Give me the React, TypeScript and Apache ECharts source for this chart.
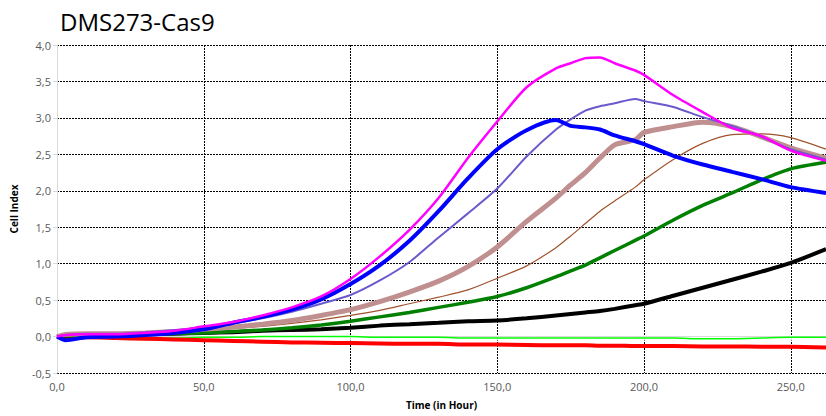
import React, { useEffect, useRef } from "react";
import * as echarts from "echarts";

const hours = [0, 3, 10, 20, 30, 40, 50, 60, 70, 80, 90, 100, 110, 120, 130, 140, 150, 160, 170, 175, 180, 185, 190, 197, 200, 210, 220, 230, 240, 250, 262];

const magenta = [0, 0.02, 0.03, 0.03, 0.05, 0.08, 0.14, 0.2, 0.29, 0.4, 0.55, 0.79, 1.1, 1.46, 1.9, 2.45, 2.95, 3.42, 3.68, 3.75, 3.82, 3.83, 3.75, 3.65, 3.59, 3.31, 3.08, 2.86, 2.75, 2.55, 2.41];
const blue = [0, -0.05, -0.01, 0, 0.02, 0.05, 0.1, 0.19, 0.27, 0.37, 0.51, 0.72, 0.98, 1.31, 1.72, 2.17, 2.57, 2.83, 2.97, 2.89, 2.87, 2.84, 2.76, 2.68, 2.64, 2.48, 2.36, 2.26, 2.16, 2.05, 1.97];
const slate = [0, 0.02, 0.04, 0.04, 0.06, 0.09, 0.12, 0.18, 0.25, 0.34, 0.45, 0.57, 0.77, 1.02, 1.36, 1.69, 2.03, 2.47, 2.84, 2.98, 3.1, 3.16, 3.2, 3.26, 3.23, 3.15, 3.01, 2.89, 2.74, 2.57, 2.43];
const rosy = [0, 0.03, 0.04, 0.04, 0.05, 0.07, 0.1, 0.13, 0.17, 0.22, 0.29, 0.37, 0.48, 0.61, 0.76, 0.96, 1.23, 1.58, 1.9, 2.08, 2.25, 2.45, 2.63, 2.7, 2.8, 2.88, 2.94, 2.88, 2.74, 2.59, 2.45];
const brown = [0, 0.03, 0.04, 0.04, 0.05, 0.07, 0.09, 0.11, 0.14, 0.18, 0.23, 0.29, 0.36, 0.45, 0.54, 0.64, 0.8, 0.97, 1.22, 1.38, 1.55, 1.72, 1.86, 2.05, 2.15, 2.43, 2.65, 2.77, 2.78, 2.73, 2.57];
const green = [0, 0.01, 0.02, 0.02, 0.03, 0.04, 0.05, 0.07, 0.09, 0.12, 0.16, 0.21, 0.27, 0.33, 0.4, 0.47, 0.55, 0.67, 0.82, 0.9, 0.98, 1.08, 1.18, 1.32, 1.38, 1.6, 1.8, 1.97, 2.15, 2.3, 2.39];
const black = [0, 0.01, 0.02, 0.02, 0.03, 0.04, 0.05, 0.06, 0.08, 0.09, 0.1, 0.12, 0.15, 0.17, 0.19, 0.21, 0.22, 0.25, 0.29, 0.31, 0.33, 0.35, 0.38, 0.43, 0.45, 0.56, 0.67, 0.78, 0.89, 1.01, 1.2];
const lime = [0, 0.01, 0, -0.01, -0.02, -0.02, -0.01, -0.01, 0, 0, 0, 0, -0.01, -0.01, -0.01, -0.02, -0.02, -0.02, -0.02, -0.02, -0.02, -0.02, -0.02, -0.02, -0.02, -0.02, -0.03, -0.03, -0.02, -0.01, -0.01];
const red = [0, -0.01, -0.01, -0.02, -0.03, -0.04, -0.05, -0.06, -0.07, -0.08, -0.085, -0.09, -0.095, -0.1, -0.1, -0.11, -0.11, -0.115, -0.12, -0.12, -0.12, -0.125, -0.125, -0.13, -0.13, -0.13, -0.135, -0.135, -0.14, -0.14, -0.15];

const seriesDefs = [
  { name: "lime", values: lime, color: "#00FF00", width: 1.5 },
  { name: "red", values: red, color: "#FF0000", width: 4 },
  { name: "black", values: black, color: "#000000", width: 4 },
  { name: "green", values: green, color: "#008000", width: 3.5 },
  { name: "brown", values: brown, color: "#A0522D", width: 1.2 },
  { name: "rosy", values: rosy, color: "#C09090", width: 5 },
  { name: "slate", values: slate, color: "#6A5ACD", width: 2 },
  { name: "blue", values: blue, color: "#0000FF", width: 4 },
  { name: "magenta", values: magenta, color: "#FF00FF", width: 2.5 },
];

const fmt = (v: number) => v.toFixed(1).replace(".", ",");

export default function App() {
  const ref = useRef<HTMLDivElement>(null);
  useEffect(() => {
    if (!ref.current) return;
    const chart = echarts.init(ref.current, null, { renderer: "svg" });
    const dash = { color: "#000", width: 1, type: [2, 1] as any };
    chart.setOption({
      animation: false,
      backgroundColor: "#fff",
      title: {
        text: "DMS273-Cas9",
        left: 55,
        top: 4,
        textStyle: { fontFamily: "Open Sans", fontSize: 24, fontWeight: "normal", color: "#000" },
      },
      grid: { left: 57, right: 0, top: 45, bottom: 43, containLabel: false },
      xAxis: {
        type: "value",
        min: 0,
        max: 262,
        interval: 50,
        name: "Time (in Hour)",
        nameLocation: "middle",
        nameGap: 27,
        nameTextStyle: { fontFamily: "Open Sans", fontSize: 10, fontWeight: "bold", color: "#000" },
        axisLine: { show: true, lineStyle: { color: "#d9d9d9", width: 1 } },
        axisTick: { show: true, length: 4, lineStyle: { color: "#d9d9d9" } },
        axisLabel: { formatter: fmt, fontFamily: "Open Sans", fontSize: 11, color: "#595959", margin: 8, showMaxLabel: false },
        splitLine: { show: true, lineStyle: dash },
      },
      yAxis: {
        type: "value",
        min: -0.5,
        max: 4,
        interval: 0.5,
        name: "Cell Index",
        nameLocation: "middle",
        nameGap: 38,
        nameTextStyle: { fontFamily: "Open Sans", fontSize: 10, fontWeight: "bold", color: "#000" },
        axisLine: { show: true, lineStyle: { color: "#d9d9d9", width: 1 } },
        axisTick: { show: true, length: 4, lineStyle: { color: "#d9d9d9" } },
        axisLabel: { formatter: fmt, fontFamily: "Open Sans", fontSize: 11, color: "#595959", margin: 6 },
        splitLine: { show: true, lineStyle: dash },
      },
      series: seriesDefs.map((s) => ({
        name: s.name,
        type: "line",
        data: hours.map((h, i) => [h, s.values[i]]),
        showSymbol: false,
        smooth: 0.25,
        lineStyle: { color: s.color, width: s.width },
        itemStyle: { color: s.color },
        clip: true,
      })),
    });
    return () => chart.dispose();
  }, []);
  return <div ref={ref} style={{ width: 826, height: 416, position: "absolute", left: 0, top: 0 }} />;
}
